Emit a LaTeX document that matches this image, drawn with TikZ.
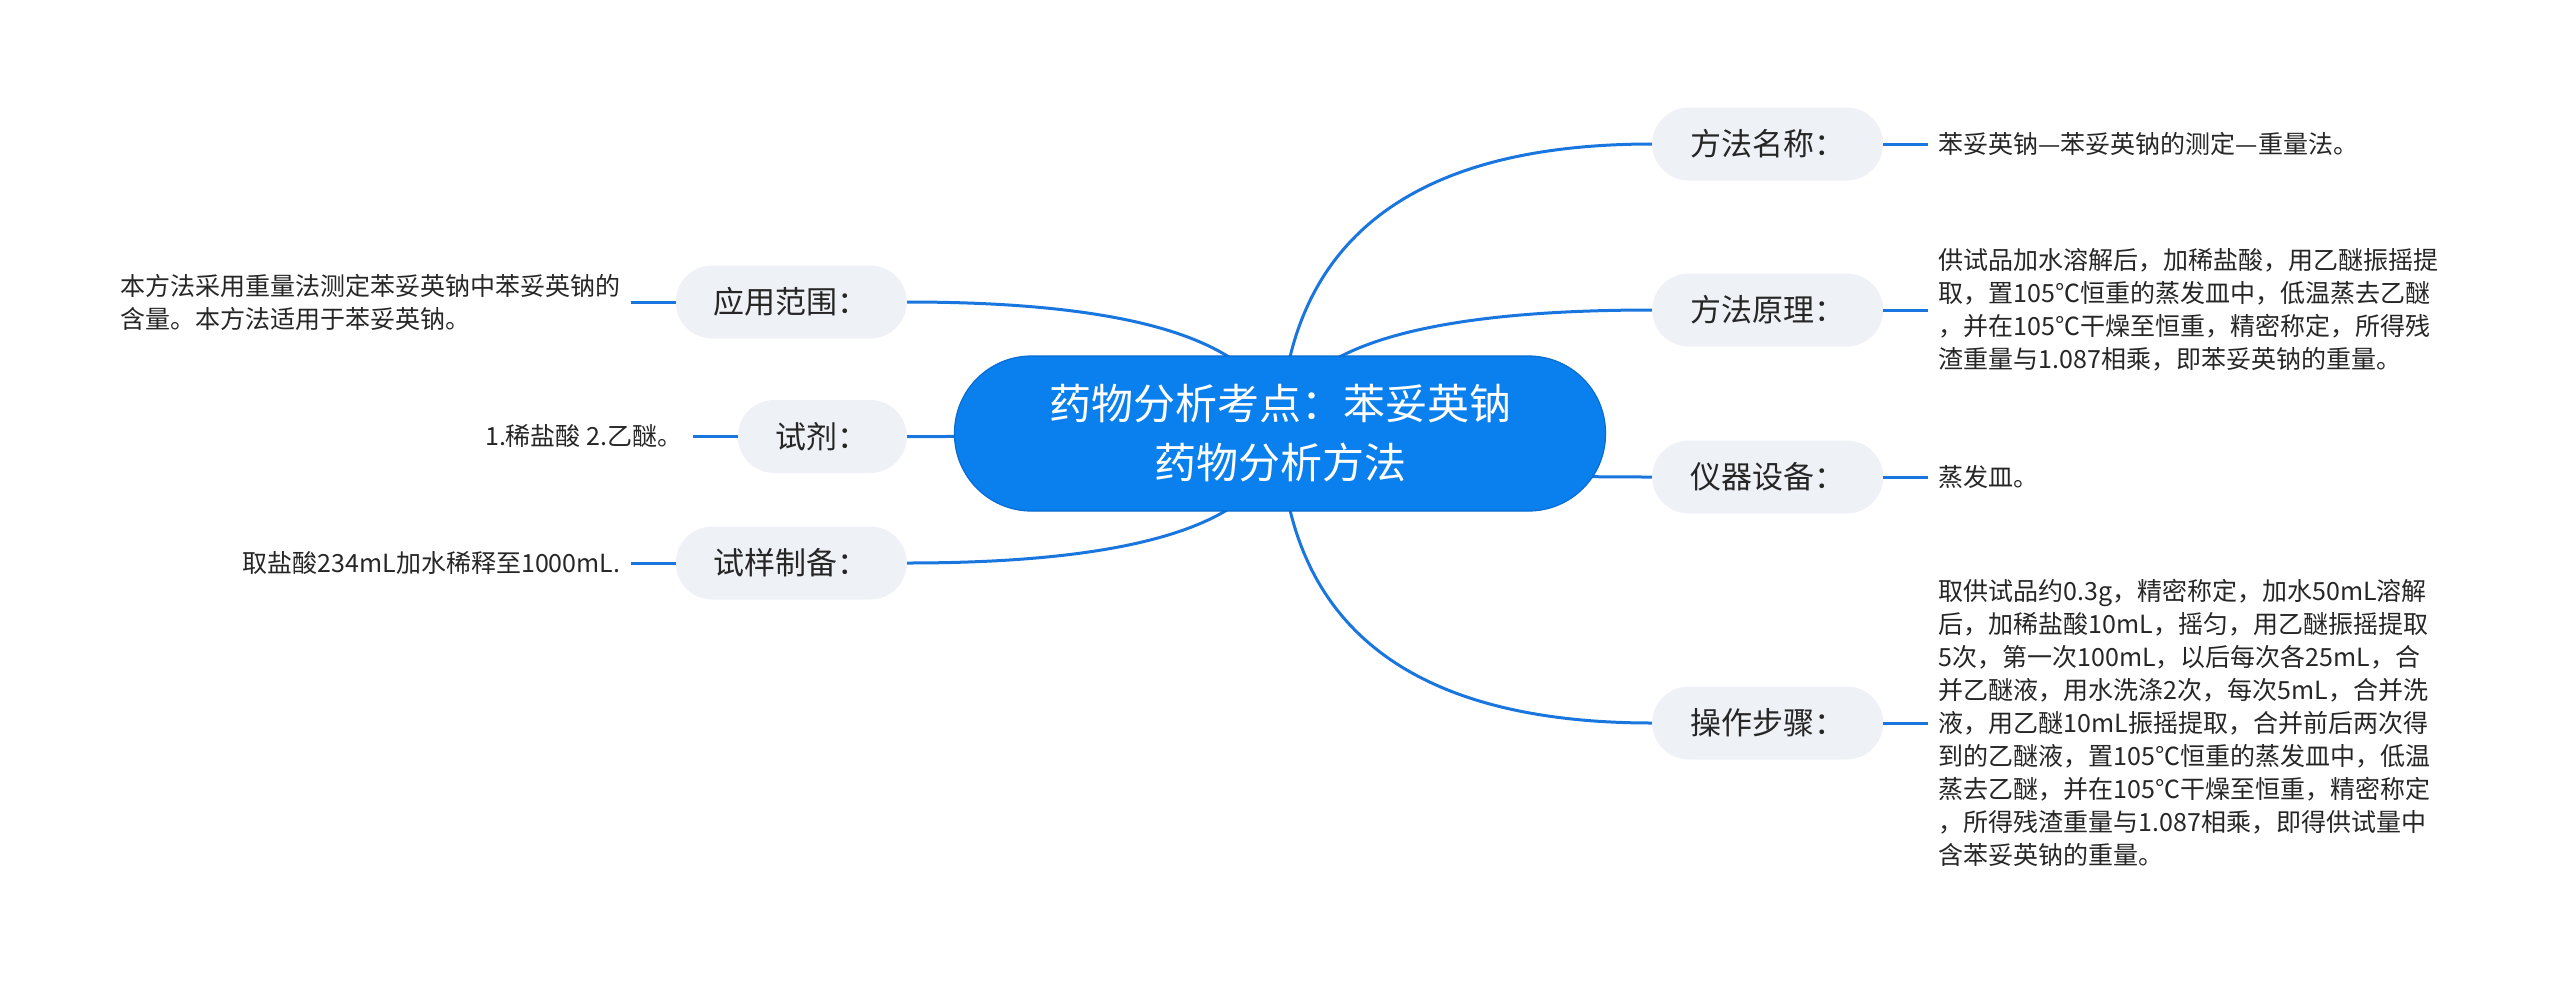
\documentclass[tikz,border=0pt]{standalone}
\usepackage{fontspec}
\setmainfont{Noto Sans CJK SC}
\usepackage{tikz}
\usetikzlibrary{positioning,backgrounds}
\usepackage{xcolor}
\definecolor{rootblue}{RGB}{10,127,238}
\definecolor{rootedge}{RGB}{8,108,210}
\definecolor{linkblue}{RGB}{24,118,222}
\definecolor{pillgray}{RGB}{238,241,245}
\definecolor{inkgray}{RGB}{38,38,38}

\begin{document}
\begin{tikzpicture}[
    x=1pt, y=-1pt,
    node distance=45pt,
    root/.style={rectangle,draw=rootedge,line width=1.2pt,fill=rootblue,
                 text=white,align=center,rounded corners=77pt,
                 minimum width=651pt,minimum height=155pt,
                 font=\fontsize{42}{59}\selectfont},
    topic/.style={rectangle,fill=pillgray,text=inkgray,rounded corners=36.5pt,
                  minimum height=73pt,inner xsep=38pt,inner ysep=0pt,
                  font=\fontsize{31}{36}\selectfont},
    leaf/.style={align=left,text=inkgray,inner sep=10pt,
                 font=\fontsize{25}{33}\selectfont},
    link/.style={line width=3pt,linkblue}
  ]
    \useasboundingbox (0,0) rectangle (2560,986);

    \node[root] (root) at (1280,433.5) {药物分析考点：苯妥英钠\\药物分析方法};

    \node[topic,anchor=west] (mc) at (1652,144) {方法名称：};
    \node[topic,anchor=west] (yl) at (1652,310) {方法原理：};
    \node[topic,anchor=west] (yq) at (1652,477) {仪器设备：};
    \node[topic,anchor=west] (cz) at (1652,723) {操作步骤：};
    \node[topic,anchor=east] (fw) at (907,302) {应用范围：};
    \node[topic,anchor=east] (sj) at (907,436.5) {试剂：};
    \node[topic,anchor=east] (zb) at (907,563) {试样制备：};

    \node[leaf,right=of mc] (mcT) {苯妥英钠—苯妥英钠的测定—重量法。};
    \node[leaf,right=of yl] (ylT) {供试品加水溶解后，加稀盐酸，用乙醚振摇提\\取，置105℃恒重的蒸发皿中，低温蒸去乙醚\\，并在105℃干燥至恒重，精密称定，所得残\\渣重量与1.087相乘，即苯妥英钠的重量。};
    \node[leaf,right=of yq] (yqT) {蒸发皿。};
    \node[leaf,right=of cz] (czT) {取供试品约0.3g，精密称定，加水50mL溶解\\后，加稀盐酸10mL，摇匀，用乙醚振摇提取\\5次，第一次100mL，以后每次各25mL，合\\并乙醚液，用水洗涤2次，每次5mL，合并洗\\液，用乙醚10mL振摇提取，合并前后两次得\\到的乙醚液，置105℃恒重的蒸发皿中，低温\\蒸去乙醚，并在105℃干燥至恒重，精密称定\\，所得残渣重量与1.087相乘，即得供试量中\\含苯妥英钠的重量。};
    \node[leaf,left=of fw] (fwT) {本方法采用重量法测定苯妥英钠中苯妥英钠的\\含量。本方法适用于苯妥英钠。};
    \node[leaf,left=of sj] (sjT) {1.稀盐酸 2.乙醚。};
    \node[leaf,left=of zb] (zbT) {取盐酸234mL加水稀释至1000mL.};

    \begin{scope}[on background layer]
      \draw[link] (root.center) .. controls +(6.7,-193) and +(-241,0) .. (mc.west);
      \draw[link] (root.center) .. controls +(6.7,-82.3) and +(-241,0) .. (yl.west);
      \draw[link] (root.center) .. controls +(6.7,29) and +(-241,0) .. (yq.west);
      \draw[link] (root.center) .. controls +(6.7,193) and +(-241,0) .. (cz.west);
      \draw[link] (root.center) .. controls +(-6.7,-87.7) and +(242,0) .. (fw.east);
      \draw[link] (root.center) .. controls +(-6.7,2) and +(242,0) .. (sj.east);
      \draw[link] (root.center) .. controls +(-6.7,86.3) and +(242,0) .. (zb.east);
    \end{scope}

    \draw[link] (mc.east) -- (mcT.west);
    \draw[link] (yl.east) -- (ylT.west);
    \draw[link] (yq.east) -- (yqT.west);
    \draw[link] (cz.east) -- (czT.west);
    \draw[link] (fw.west) -- (fwT.east);
    \draw[link] (sj.west) -- (sjT.east);
    \draw[link] (zb.west) -- (zbT.east);
  \end{tikzpicture}
\end{document}
